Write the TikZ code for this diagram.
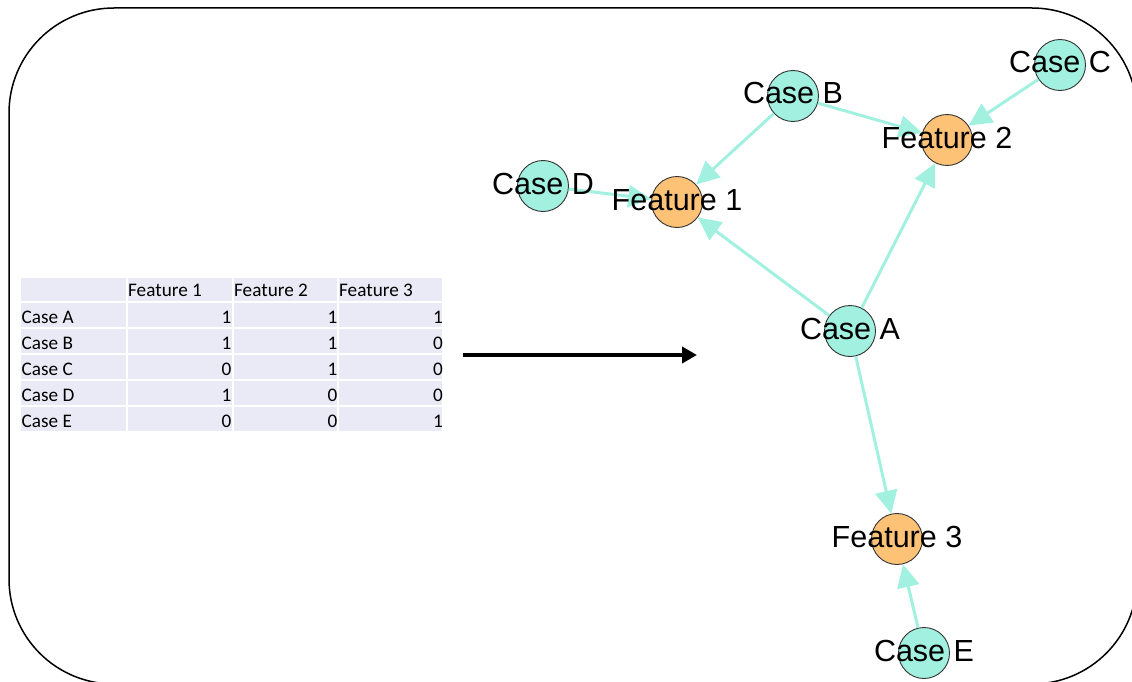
\documentclass[tikz,border=0pt]{standalone}
\usepackage{fontspec}
\setmainfont{Liberation Sans}
\newfontfamily\tablefont{Carlito}
\usetikzlibrary{arrows.meta,calc}
\definecolor{casefill}{RGB}{162,240,224}
\definecolor{featfill}{RGB}{253,194,118}
\definecolor{edgecol}{RGB}{162,240,224}
\definecolor{cellfill}{RGB}{233,234,245}

\begin{document}
\begin{tikzpicture}[x=1pt,y=-1pt,
  dot/.style={circle, draw=black!80, line width=0.9pt, minimum size=51pt, inner sep=0pt},
  casenode/.style={dot, fill=casefill},
  featnode/.style={dot, fill=featfill},
  lbl/.style={anchor=base, inner sep=0pt, font=\fontsize{30.5}{31}\selectfont},
  link/.style={draw=edgecol, line width=3pt, -{Triangle[length=23pt,width=22pt]}},
  tcell/.style={inner sep=0pt, font=\tablefont\fontsize{19.2}{20}\selectfont},
  bigarrow/.style={draw=black, line width=4.5pt, -{Triangle[length=15pt,width=16pt]}}]
\useasboundingbox (0,0) rectangle (1132,682);
\clip (0,0) rectangle (1132,682);

% frame
\draw[line width=1.5pt, rounded corners=105pt] (9,8) rectangle (1137,684);

% table cells
\foreach \ya/\yb in {277/302,302/328,328/354,354/380,380/406,406/432}
  \foreach \xa/\xb in {20/127,127/233,233/338,338/443}
    \fill[cellfill] (\xa+1,\ya+1) rectangle (\xb-1,\yb-1);

% header
\node[tcell, anchor=base west] (h1) at (128,296) {Feature 1};
\node[tcell, anchor=base west] (h2) at (234,296) {Feature 2};
\node[tcell, anchor=base west] (h3) at (339,296) {Feature 3};

% rows
\foreach \name/\y/\a/\b/\c in {A/323/1/1/1, B/349/1/1/0, C/375/0/1/0, D/401/1/0/0, E/427/0/0/1}{
  \node[tcell, anchor=base west] (r\name) at (21.5,\y) {Case \name};
  \node[tcell, anchor=base east] (r\name1) at (231.5,\y) {\a};
  \node[tcell, anchor=base east] (r\name2) at (337.5,\y) {\b};
  \node[tcell, anchor=base east] (r\name3) at (443,\y) {\c};
}

% transformation arrow
\coordinate (arrS) at (463,355);
\coordinate (arrE) at (697,355);
\draw[bigarrow] (arrS) -- (arrE);

% graph nodes
\node[casenode] (A) at (850,331) {};
\node[casenode] (B) at (793,96) {};
\node[casenode] (C) at (1060,65) {};
\node[casenode] (D) at (543,186) {};
\node[casenode] (E) at (924,653) {};
\node[featnode] (F1) at (677,202) {};
\node[featnode] (F2) at (947,140) {};
\node[featnode] (F3) at (897,539) {};

% edges
\draw[link] (B) -- (F1);
\draw[link] (B) -- (F2);
\draw[link] (C) -- (F2);
\draw[link] (D) -- (F1);
\draw[link] (A) -- (F1);
\draw[link] (A) -- (F2);
\draw[link] (A) -- (F3);
\draw[link] (E) -- (F3);

% labels
\foreach \n/\t in {A/Case A, B/Case B, C/Case C, D/Case D, E/Case E,
                   F1/Feature 1, F2/Feature 2, F3/Feature 3}
  \node[lbl] (l\n) at ($(\n.center)+(0,8)$) {\t};
\end{tikzpicture}
\end{document}
